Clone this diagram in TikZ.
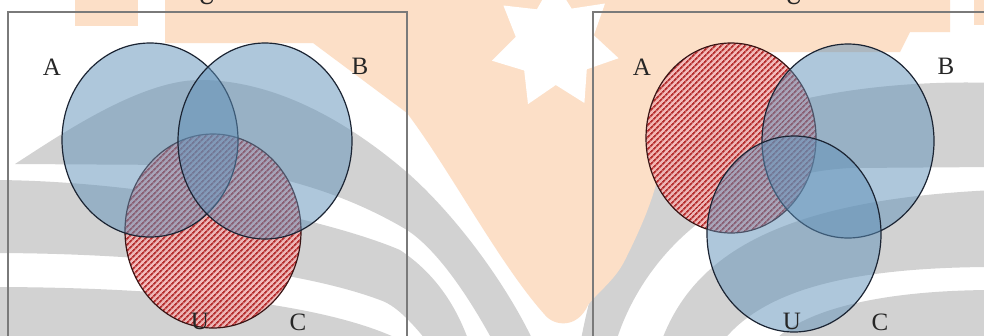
\documentclass[tikz,border=0pt]{standalone}
\usepackage{fontspec}
\setmainfont{Liberation Serif}
\usetikzlibrary{shapes.geometric,patterns.meta}
\definecolor{blueset}{HTML}{5F91B9}
\definecolor{edgecol}{HTML}{1B2433}
\definecolor{pinkfill}{HTML}{F2B0B0}
\definecolor{stripe}{HTML}{B52F2F}
\definecolor{rededge}{HTML}{3A1515}
\definecolor{framecol}{HTML}{7A7A7A}
\definecolor{peach}{HTML}{FCDFC7}
\definecolor{wmgray}{HTML}{D2D2D2}
\tikzset{
  setblue/.style={ellipse, draw=edgecol, line width=1.2pt, fill=blueset, fill opacity=0.5, draw opacity=1, inner sep=0pt},
  setred/.style={ellipse, draw=rededge, line width=1.2pt, inner sep=0pt,
    preaction={fill=pinkfill, fill opacity=0.85},
    pattern={Lines[angle=45,distance=4pt,line width=1.8pt]}, pattern color=stripe},
  lbl/.style={font=\fontsize{25pt}{30pt}\selectfont, text=black!85, inner sep=0pt},
  framebox/.style={draw=framecol, line width=1.8pt},
  wmpeach/.style={fill=peach},
  wmband/.style={fill=wmgray}
}
\begin{document}
\begin{tikzpicture}[x=1pt,y=-1pt]
\useasboundingbox (0,0) rectangle (984,335);
\clip (0,0) rectangle (984,335);
\fill[white] (0,0) rectangle (984,335);

% watermark (background)
% gray pages, left
\path[wmband] (15,164) .. controls (60,135) and (140,80) .. (200,80)
   .. controls (290,80) and (370,140) .. (410,175)
   .. controls (460,220) and (510,290) .. (535,345) -- (495,345)
   .. controls (460,280) and (430,245) .. (407,230)
   .. controls (340,190) and (260,168) .. (180,165) -- cycle;
\path[wmband] (-10,180) .. controls (150,180) and (330,220) .. (400,250)
   .. controls (430,270) and (455,300) .. (470,345) -- (430,345)
   .. controls (410,320) and (395,305) .. (380,300)
   .. controls (300,270) and (150,253) .. (-10,253) -- cycle;
\path[wmband] (-10,287) .. controls (150,287) and (330,300) .. (410,345) -- (-10,345) -- cycle;
% gray pages, right
\path[wmband] (995,83) .. controls (850,78) and (700,110) .. (640,180)
   .. controls (610,220) and (590,290) .. (580,345) -- (615,345)
   .. controls (640,260) and (720,175) .. (850,168) -- (995,167) -- cycle;
\path[wmband] (660,345) .. controls (690,260) and (770,200) .. (995,190)
   -- (995,267) .. controls (850,267) and (760,290) .. (720,345) -- cycle;
\path[wmband] (995,290) .. controls (880,290) and (800,310) .. (770,345) -- (995,345) -- cycle;
% peach flower
\path[wmpeach] (75,-40) rectangle (138,26);
\path[wmpeach] (974,-40) rectangle (995,25);
\path[wmpeach] (165,-40) -- (165,43) -- (313,43) -- (407,113)
   .. controls (450,170) and (500,265) .. (545,315)
   .. controls (555,327) and (578,328) .. (588,305)
   .. controls (600,290) and (615,280) .. (625,260)
   .. controls (650,210) and (665,170) .. (662,130)
   .. controls (660,90) and (670,55) .. (700,52)
   -- (900,52) -- (910,32) -- (950,32) -- (950,-40) -- cycle;
% white star
\path[fill=white] (491.9,60.7) -- (524.2,70.5) -- (528.0,104.1) -- (555.8,85.0)
   -- (584.4,103.0) -- (586.8,69.3) -- (618.6,58.2) -- (593.8,35.3)
   -- (605.0,3.5) -- (571.6,8.6) -- (553.7,-20.0) -- (536.9,9.3)
   -- (503.4,5.5) -- (515.8,36.9) -- cycle;

% frames
\draw[framebox] (8,12) rectangle (407,370);
\draw[framebox] (593,12) rectangle (1010,370);

% left diagram
\node[setred, minimum width=176pt, minimum height=194pt] (C1) at (213,231) {};
\node[setblue, minimum width=176pt, minimum height=194pt] (A1) at (150,140) {};
\node[setblue, minimum width=174pt, minimum height=196pt] (B1) at (265,141) {};

% right diagram
\node[setred, minimum width=170pt, minimum height=190pt] (A2) at (731,138) {};
\node[setblue, minimum width=172pt, minimum height=194pt] (B2) at (848,141) {};
\node[setblue, minimum width=174pt, minimum height=196pt] (C2) at (794,234) {};

% labels
\node[lbl] (lA1) at (52,67) {A};
\node[lbl] (lB1) at (360,66) {B};
\node[lbl] (lC1) at (298,322) {C};
\node[lbl] (lU1) at (200,321) {U};
\node[lbl] (lT1) at (207,-4) {U};
\node[lbl] (lA2) at (642,67) {A};
\node[lbl] (lB2) at (946,66) {B};
\node[lbl] (lC2) at (880,322) {C};
\node[lbl] (lU2) at (792,321) {U};
\node[lbl] (lT2) at (794,-4) {U};
\end{tikzpicture}
\end{document}
